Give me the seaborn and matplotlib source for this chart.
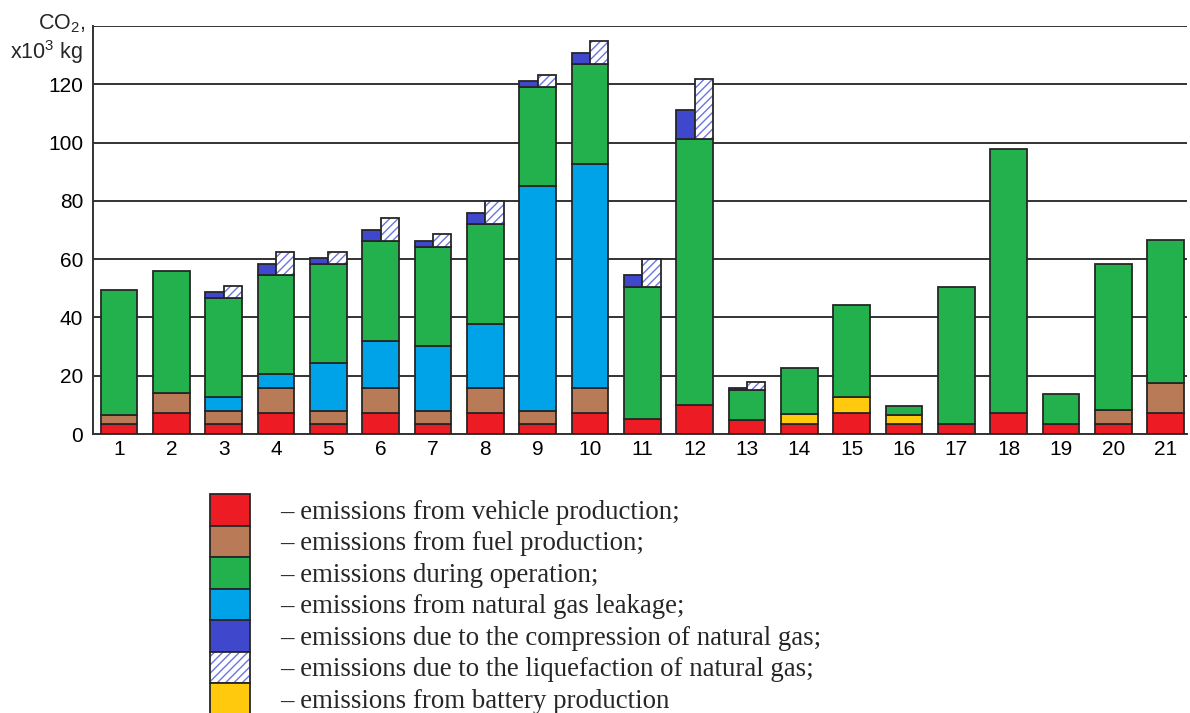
import matplotlib
matplotlib.use("Agg")
import matplotlib.pyplot as plt
from matplotlib.patches import Patch
import numpy as np
import seaborn as sns

# Vehicle options 1..21, CO2 emissions per component (x10^3 kg)
options = list(range(1, 22))
vehicle = [3.3, 7.1, 3.3, 7.1, 3.3, 7.1, 3.3, 7.1, 3.3, 7.1, 5.0,
           9.9, 4.7, 3.3, 7.1, 3.3, 3.3, 7.1, 3.3, 3.3, 7.1]
fuel = [3.3, 7.1, 4.6, 8.8, 4.6, 8.8, 4.6, 8.8, 4.7, 8.6, 0.0,
        0.0, 0.0, 0.0, 0.0, 0.0, 0.0, 0.0, 0.0, 4.9, 10.3]
battery = [0.0, 0.0, 0.0, 0.0, 0.0, 0.0, 0.0, 0.0, 0.0, 0.0, 0.0,
           0.0, 0.0, 3.4, 5.7, 3.2, 0.0, 0.0, 0.0, 0.0, 0.0]
leakage = [0.0, 0.0, 4.7, 4.6, 16.3, 16.1, 22.2, 22.0, 77.0, 77.1, 0.0,
           0.0, 0.0, 0.0, 0.0, 0.0, 0.0, 0.0, 0.0, 0.0, 0.0]
operation = [42.9, 41.9, 33.9, 34.0, 34.1, 34.1, 34.0, 34.1, 34.1, 34.3, 45.4,
             91.3, 10.4, 15.8, 31.4, 3.0, 47.2, 90.7, 10.5, 50.1, 49.2]
compression = [0.0, 0.0, 2.2, 3.7, 2.1, 3.8, 2.1, 3.7, 2.0, 3.6, 4.1,
               9.9, 0.8, 0.0, 0.0, 0.0, 0.0, 0.0, 0.0, 0.0, 0.0]
liquefaction = [0.0, 0.0, 4.4, 8.0, 4.2, 7.9, 4.4, 8.0, 4.2, 7.7, 9.8,
                20.7, 2.8, 0.0, 0.0, 0.0, 0.0, 0.0, 0.0, 0.0, 0.0]

yticks = [0, 20, 40, 60, 80, 100, 120, 140]
ytick_labels = ["0", "20", "40", "60", "80", "100", "120", ""]

legend_labels = [
    "– emissions from vehicle production;",
    "– emissions from fuel production;",
    "– emissions during operation;",
    "– emissions from natural gas leakage;",
    "– emissions due to the compression of natural gas;",
    "– emissions due to the liquefaction of natural gas;",
    "– emissions from battery production",
]

C_VEH = "#ED1C24"
C_FUEL = "#B97A57"
C_OPER = "#22B14C"
C_LEAK = "#00A2E8"
C_COMP = "#3F48CC"
C_HATCH = "#6A76E0"
C_BATT = "#FFC90E"
EDGE = "#262626"

sns.set_style("white")
plt.rcParams["font.family"] = ["Liberation Sans", "DejaVu Sans"]
plt.rcParams["mathtext.default"] = "regular"
plt.rcParams["hatch.linewidth"] = 1.0

fig = plt.figure(figsize=(11.9, 7.13), dpi=100)
ax = fig.add_axes([93 / 1190, 1 - 434 / 713, (1187 - 93) / 1190, (434 - 26) / 713])

x = np.array(options, dtype=float)
w = 0.70
lw = 1.3

bottom = np.zeros(len(x))
for vals, col in [(vehicle, C_VEH), (fuel, C_FUEL), (battery, C_BATT),
                  (leakage, C_LEAK), (operation, C_OPER)]:
    v = np.array(vals)
    mask = v > 0
    ax.bar(x[mask], v[mask], width=w, bottom=bottom[mask], color=col,
           edgecolor=EDGE, linewidth=lw, zorder=3)
    bottom = bottom + v

# Compression (left half) and liquefaction (right half) sit on top of operation
comp = np.array(compression)
liq = np.array(liquefaction)
m = comp > 0
ax.bar(x[m] - w / 4, comp[m], width=w / 2, bottom=bottom[m], color=C_COMP,
       edgecolor=EDGE, linewidth=lw, zorder=3)
m = liq > 0
ax.bar(x[m] + w / 4, liq[m], width=w / 2, bottom=bottom[m], color="white",
       edgecolor=C_HATCH, hatch="////", linewidth=0, zorder=3)
ax.bar(x[m] + w / 4, liq[m], width=w / 2, bottom=bottom[m], fill=False,
       edgecolor=EDGE, linewidth=lw, zorder=4)

ax.set_xlim(0.5, 21.41)
ax.set_ylim(0, 140)
ax.set_xticks(x)
ax.set_xticklabels([str(o) for o in options])
ax.set_yticks(yticks)
ax.set_yticklabels(ytick_labels)
ax.tick_params(axis="both", length=0, labelsize=15, colors="black")
ax.tick_params(axis="y", pad=7)
ax.tick_params(axis="x", pad=4)
ax.yaxis.grid(True, color="#333333", linewidth=1.4, zorder=0)
ax.xaxis.grid(False)
ax.set_axisbelow(True)
for s in ["top", "right"]:
    ax.spines[s].set_visible(False)
for s in ["left", "bottom"]:
    ax.spines[s].set_color("#333333")
    ax.spines[s].set_linewidth(1.4)

fig.text(85 / 1190, 1 - 29 / 713, "CO$_2$,", ha="right", va="baseline", fontsize=15.5)
fig.text(83 / 1190, 1 - 59 / 713, "x10$^3$ kg", ha="right", va="baseline", fontsize=15.5)

handles = [
    Patch(facecolor=C_VEH, edgecolor=EDGE, linewidth=lw),
    Patch(facecolor=C_FUEL, edgecolor=EDGE, linewidth=lw),
    Patch(facecolor=C_OPER, edgecolor=EDGE, linewidth=lw),
    Patch(facecolor=C_LEAK, edgecolor=EDGE, linewidth=lw),
    Patch(facecolor=C_COMP, edgecolor=EDGE, linewidth=lw),
    (Patch(facecolor="white", edgecolor=C_HATCH, hatch="////", linewidth=0),
     Patch(fill=False, edgecolor=EDGE, linewidth=lw)),
    Patch(facecolor=C_BATT, edgecolor=EDGE, linewidth=lw),
]
fs = 19.4
fspx = fs * 100 / 72
row_pt = 31.5 * 72 / 100
hh = (row_pt / fs - 0.245) / 0.65
fig.legend(handles, legend_labels, loc="upper left",
           bbox_to_anchor=(210 / 1190, 1 - 494 / 713),
           frameon=False, borderpad=0, borderaxespad=0, labelspacing=0,
           handlelength=40 / fspx, handleheight=hh,
           handletextpad=30 / fspx,
           prop={"family": ["Liberation Serif", "DejaVu Serif"], "size": fs})

fig.savefig("out.png", dpi=100)
